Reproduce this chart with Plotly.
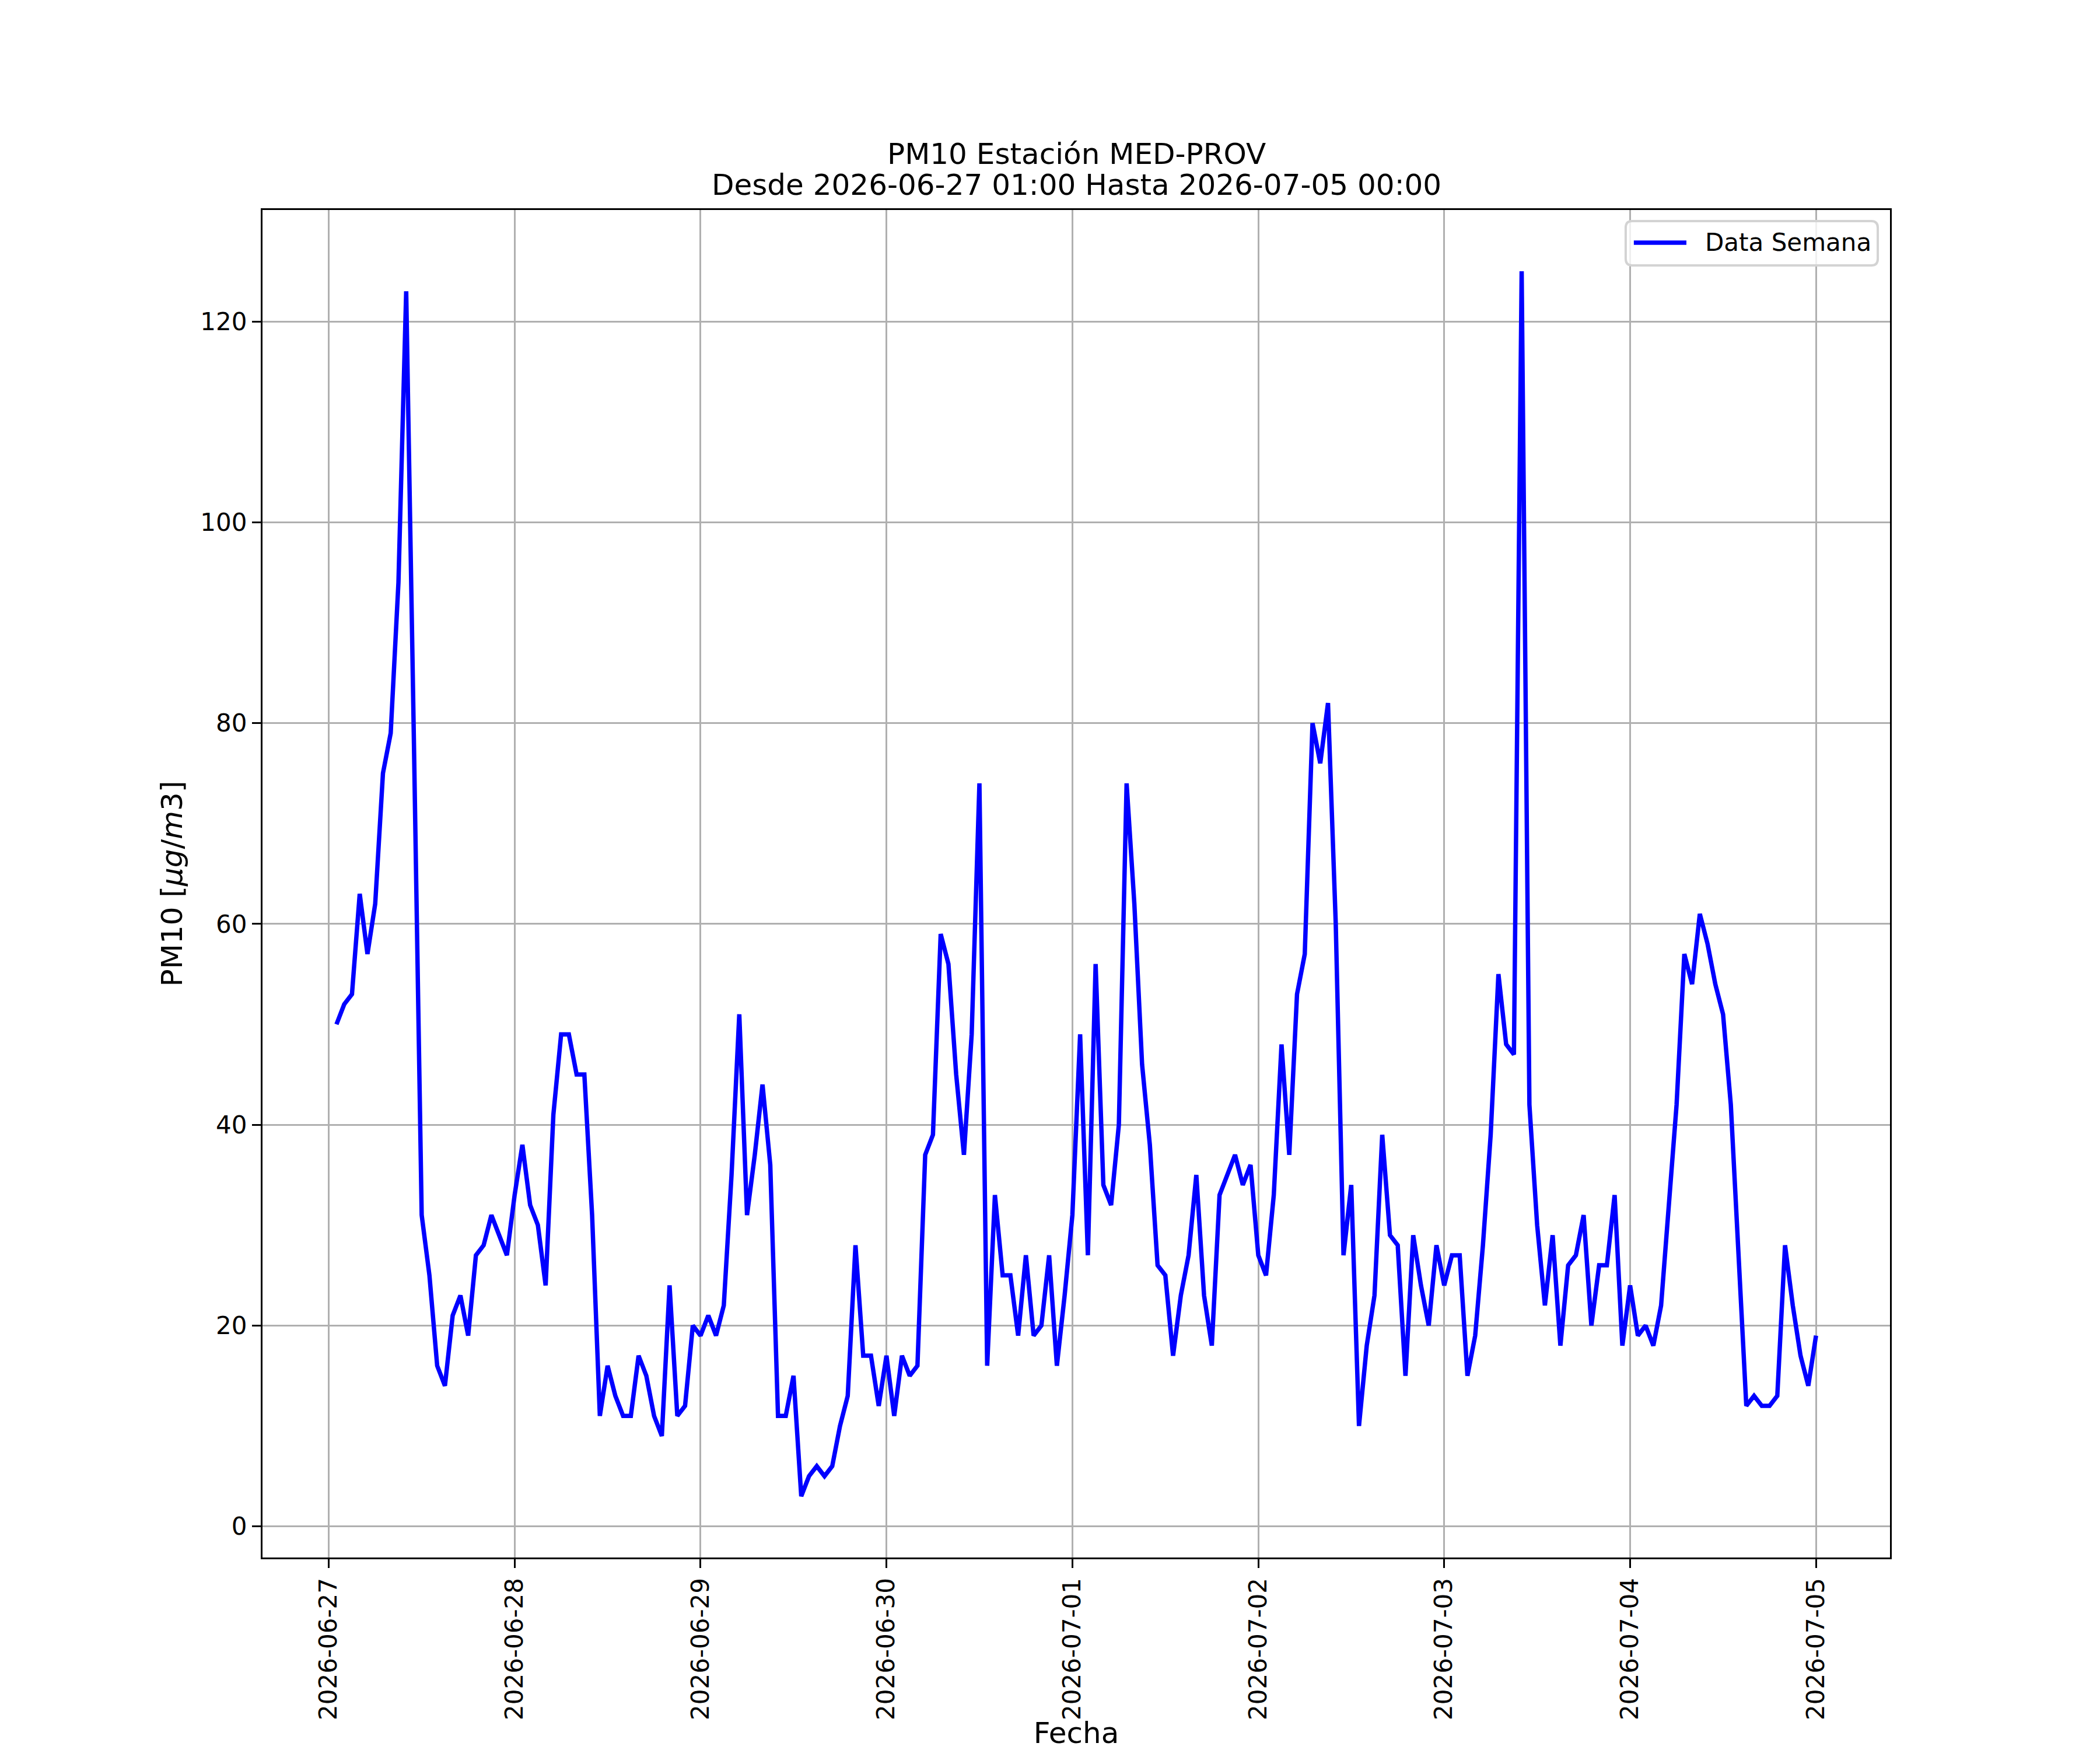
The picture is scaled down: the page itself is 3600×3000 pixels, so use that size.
import pandas as pd
import plotly.graph_objects as go

# Datos horarios PM10 (ug/m3), un bloque por día (01:00 -> 00:00)
pm10_0627 = [50, 52, 53, 63, 57, 62, 75, 79, 94, 123, 78, 31, 25, 16, 14, 21, 23, 19, 27, 28, 31, 29, 27, 33]
pm10_0628 = [38, 32, 30, 24, 41, 49, 49, 45, 45, 31, 11, 16, 13, 11, 11, 17, 15, 11, 9, 24, 11, 12, 20, 19]
pm10_0629 = [21, 19, 22, 35, 51, 31, 37, 44, 36, 11, 11, 15, 3, 5, 6, 5, 6, 10, 13, 28, 17, 17, 12, 17]
pm10_0630 = [11, 17, 15, 16, 37, 39, 59, 56, 45, 37, 49, 74, 16, 33, 25, 25, 19, 27, 19, 20, 27, 16, 23, 31]
pm10_0701 = [49, 27, 56, 34, 32, 40, 74, 62, 46, 38, 26, 25, 17, 23, 27, 35, 23, 18, 33, 35, 37, 34, 36, 27]
pm10_0702 = [25, 33, 48, 37, 53, 57, 80, 76, 82, 60, 27, 34, 10, 18, 23, 39, 29, 28, 15, 29, 24, 20, 28, 24]
pm10_0703 = [27, 27, 15, 19, 28, 39, 55, 48, 47, 125, 42, 30, 22, 29, 18, 26, 27, 31, 20, 26, 26, 33, 18, 24]
pm10_0704 = [19, 20, 18, 22, 32, 42, 57, 54, 61, 58, 54, 51, 42, 26, 12, 13, 12, 12, 13, 28, 22, 17, 14, 19]

inicio = "2026-06-27 01:00"
fin = "2026-07-05 00:00"
estacion = "MED-PROV"
etiqueta = "Data Semana"

valores = (pm10_0627 + pm10_0628 + pm10_0629 + pm10_0630
           + pm10_0701 + pm10_0702 + pm10_0703 + pm10_0704)
fechas = pd.date_range(inicio, periods=len(valores), freq="h")

# margenes estilo matplotlib (5%)
span = fechas[-1] - fechas[0]
x_range = [fechas[0] - span * 0.05, fechas[-1] + span * 0.05]
y_pad = (max(valores) - min(valores)) * 0.05
y_range = [min(valores) - y_pad, max(valores) + y_pad]

FONT = "DejaVu Sans"
GRID = "#b0b0b0"
AZUL = "blue"

fig = go.Figure()
fig.add_trace(go.Scatter(
    x=fechas, y=valores,
    mode="lines",
    name=etiqueta,
    line=dict(color=AZUL, width=7.5),
    showlegend=False,
))

# leyenda dibujada a mano (muestra de línea larga como en matplotlib)
lx0, lx1, ly0, ly1 = 0.8376, 0.9925, 0.9589, 0.9918
rx, ry = 0.004, 0.005
caja = (f"M{lx0+rx},{ly1} L{lx1-rx},{ly1} Q{lx1},{ly1} {lx1},{ly1-ry} "
        f"L{lx1},{ly0+ry} Q{lx1},{ly0} {lx1-rx},{ly0} L{lx0+rx},{ly0} "
        f"Q{lx0},{ly0} {lx0},{ly0+ry} L{lx0},{ly1-ry} Q{lx0},{ly1} {lx0+rx},{ly1} Z")
ly_mid = 0.9758

fig.update_layout(
    width=3592, height=2992,
    margin=dict(l=442, r=360, t=352, b=330),
    paper_bgcolor="white",
    plot_bgcolor="white",
    font=dict(family=FONT, size=42, color="black"),
    showlegend=False,
    shapes=[
        dict(type="path", path=caja, xref="paper", yref="paper",
             fillcolor="rgba(255,255,255,0.8)",
             line=dict(color="#d3d3d3", width=4), layer="above"),
        dict(type="line", xref="paper", yref="paper",
             x0=0.8426, x1=0.8749, y0=ly_mid, y1=ly_mid,
             line=dict(color=AZUL, width=7.5), layer="above"),
    ],
    annotations=[
        dict(text=f"PM10 Estación {estacion}", xref="paper", yref="paper",
             x=0.5, y=1, xanchor="center", yanchor="middle", yshift=96,
             showarrow=False, font=dict(size=50)),
        dict(text=f"Desde {inicio} Hasta {fin}", xref="paper", yref="paper",
             x=0.5, y=1, xanchor="center", yanchor="middle", yshift=43,
             showarrow=False, font=dict(size=50)),
        dict(text=etiqueta, xref="paper", yref="paper",
             x=0.8857, y=ly_mid, xanchor="left", yanchor="middle",
             showarrow=False, font=dict(size=42)),
    ],
)

fig.update_xaxes(
    type="date",
    range=x_range,
    tick0="2026-06-27", dtick=86400000,
    tickformat="%Y-%m-%d",
    tickangle=-90,
    ticks="outside", ticklen=15, tickwidth=3.3, tickcolor="black",
    showgrid=True, gridcolor=GRID, gridwidth=3.3,
    showline=True, linecolor="black", linewidth=3.3, mirror=True,
    zeroline=False,
    automargin=False,
    title=dict(text="Fecha", font=dict(size=50), standoff=6),
)

fig.update_yaxes(
    range=y_range,
    tick0=0, dtick=20,
    ticks="outside", ticklen=15, tickwidth=3.3, tickcolor="black",
    showgrid=True, gridcolor=GRID, gridwidth=3.3,
    showline=True, linecolor="black", linewidth=3.3, mirror=True,
    zeroline=False,
    automargin=False,
    title=dict(text="PM10 [<i>μg</i>/<i>m</i>3]", font=dict(size=50), standoff=15),
)

fig.write_html("out.html")
